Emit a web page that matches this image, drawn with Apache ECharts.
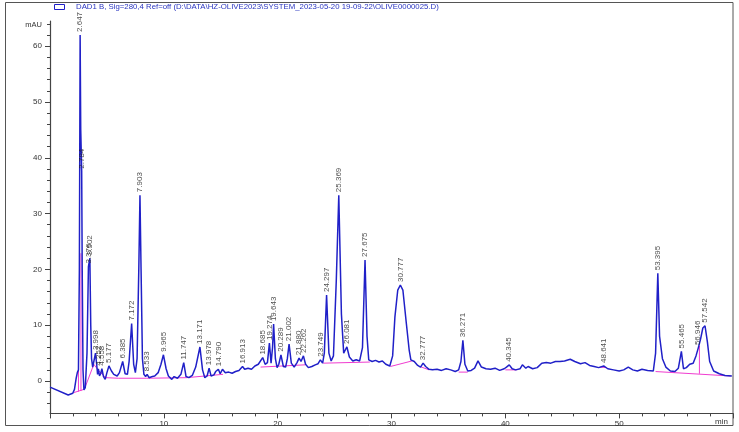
<!DOCTYPE html>
<html>
<head>
<meta charset="utf-8">
<script src="https://cdn.jsdelivr.net/npm/echarts@6/dist/echarts.min.js"></script>
<style>
  html, body { margin: 0; padding: 0; background: #fff; }
  #chart { width: 739px; height: 432px; }
</style>
</head>
<body>
<div id="chart"></div>
<script>
// 信号曲线 (时间 min, 吸收 mAU)
var trace = [
  [0, -1.1], [1.6, -2.5], [2.0, -2.2], [2.15, -1.5], [2.3, 0.5], [2.4, 1.5], [2.5, 2.0],
  [2.58, 20], [2.647, 62.0], [2.7, 45], [2.784, 37.5], [2.83, 20], [2.9, 2], [2.98, -1.6],
  [3.1, -1.2], [3.25, 5], [3.376, 20.5], [3.502, 22.0], [3.58, 10], [3.65, 4], [3.75, 2.5],
  [3.85, 3.5], [3.998, 5.0], [4.1, 3], [4.18, 1.2], [4.252, 2.2], [4.35, 0.9], [4.45, 1.3],
  [4.558, 2.2], [4.7, 0.8], [4.85, 0.3], [5.0, 1.5], [5.177, 2.7], [5.4, 1.8], [5.6, 1.2],
  [5.9, 0.9], [6.1, 1.5], [6.385, 3.5], [6.6, 1.3], [6.8, 1.2], [6.95, 3.5], [7.172, 10.3],
  [7.35, 3], [7.5, 1.5], [7.65, 4], [7.8, 20], [7.903, 33.3], [8.0, 20], [8.12, 4],
  [8.25, 1.2], [8.4, 0.8], [8.533, 1.2], [8.7, 0.6], [9.0, 0.8], [9.2, 0.9], [9.5, 1.5],
  [9.75, 3.0], [9.965, 4.7], [10.2, 2.2], [10.4, 0.9], [10.7, 0.3], [10.9, 0.8], [11.2, 0.5],
  [11.5, 1.2], [11.747, 3.3], [11.95, 0.8], [12.2, 0.6], [12.5, 1.0], [12.8, 2.5],
  [13.171, 6.1], [13.4, 2.0], [13.6, 0.6], [13.8, 0.9], [13.978, 2.3], [14.15, 0.9],
  [14.4, 1.1], [14.55, 1.7], [14.79, 2.1], [14.95, 1.3], [15.15, 2.1], [15.4, 1.5],
  [15.7, 1.6], [16.0, 1.4], [16.3, 1.7], [16.6, 1.9], [16.913, 2.6], [17.1, 2.1], [17.4, 2.3],
  [17.7, 2.1], [18.0, 2.7], [18.3, 3.0], [18.685, 4.2], [18.9, 3.0], [19.1, 3.3],
  [19.274, 6.8], [19.42, 3.2], [19.55, 6], [19.643, 10.2], [19.8, 4], [19.95, 2.4],
  [20.1, 3.0], [20.289, 4.7], [20.5, 2.6], [20.7, 2.5], [20.85, 4], [21.002, 6.6],
  [21.2, 3.2], [21.45, 2.5], [21.7, 3.3], [21.88, 4.1], [22.05, 3.5], [22.262, 4.5],
  [22.45, 3.0], [22.7, 2.4], [23.0, 2.6], [23.3, 2.9], [23.55, 3.1], [23.749, 3.8],
  [23.95, 3.2], [24.1, 5], [24.297, 15.4], [24.5, 5], [24.7, 3.6], [24.9, 4.5], [25.15, 18],
  [25.369, 33.3], [25.6, 12], [25.8, 5.0], [25.95, 5.6], [26.081, 6.1], [26.3, 4.3],
  [26.6, 3.6], [26.9, 3.8], [27.2, 3.6], [27.45, 6], [27.675, 21.7], [27.85, 8], [28.0, 3.8],
  [28.3, 3.5], [28.6, 3.7], [28.9, 3.4], [29.2, 3.6], [29.5, 3.0], [29.85, 2.7], [30.1, 4.5],
  [30.3, 11.5], [30.55, 16.3], [30.777, 17.2], [31.0, 16.3], [31.3, 10.4], [31.55, 5.6],
  [31.7, 3.8], [32.0, 3.5], [32.3, 2.8], [32.55, 2.5], [32.777, 3.2], [33.0, 2.6], [33.3, 2.1],
  [33.6, 2.0], [34.0, 2.1], [34.4, 1.9], [34.8, 2.2], [35.2, 2.0], [35.6, 1.7], [35.9, 2.0],
  [36.1, 3.5], [36.271, 7.3], [36.45, 3.0], [36.7, 1.8], [37.0, 1.9], [37.3, 2.3], [37.6, 3.6],
  [37.9, 2.5], [38.3, 2.2], [38.7, 2.1], [39.1, 2.3], [39.5, 1.9], [39.9, 2.2], [40.1, 2.5],
  [40.345, 2.9], [40.6, 2.2], [40.9, 2.0], [41.3, 2.2], [41.5, 2.9], [41.8, 2.3], [42.0, 2.6],
  [42.4, 2.2], [42.8, 2.4], [43.2, 3.2], [43.6, 3.3], [44.0, 3.2], [44.4, 3.5], [44.8, 3.5],
  [45.2, 3.6], [45.7, 3.9], [46.1, 3.5], [46.6, 3.1], [47.0, 3.3], [47.4, 2.8], [47.8, 2.6],
  [48.2, 2.4], [48.641, 2.7], [49.0, 2.2], [49.5, 2.0], [50.0, 1.8], [50.4, 2.0], [50.8, 2.5],
  [51.2, 2.0], [51.6, 1.8], [52.0, 2.1], [52.5, 1.9], [53.0, 1.8], [53.2, 5], [53.395, 19.3],
  [53.55, 8], [53.8, 4], [54.1, 2.5], [54.5, 1.8], [54.9, 1.7], [55.2, 2.3], [55.465, 5.3],
  [55.65, 2.2], [55.9, 2.4], [56.2, 3.0], [56.5, 3.2], [56.75, 4.5], [56.946, 5.9],
  [57.15, 7.5], [57.35, 9.5], [57.542, 9.9], [57.75, 7], [57.95, 3.5], [58.3, 1.8],
  [58.8, 1.3], [59.3, 1.0], [59.9, 0.9]
];

// 积分基线和分割线 (粉色)
var baselines = [
  [[2.05, -2.1], [2.98, -1.5]],
  [[2.5, -1.9], [2.5, 1.8]],
  [[2.72, -1.8], [2.72, 22.9]],
  [[3.05, -1.3], [3.85, 3.0], [4.3, 1.8], [4.9, 0.6], [6.0, 0.5], [8.5, 0.5], [12.0, 0.6], [15.2, 1.2]],
  [[18.5, 2.5], [22.4, 2.9]],
  [[24.0, 3.2], [28.1, 3.4]],
  [[29.9, 2.6], [31.8, 3.6]],
  [[32.5, 2.6], [33.3, 2.0]],
  [[35.9, 1.6], [36.7, 1.6]],
  [[40.0, 2.0], [41.0, 2.0]],
  [[48.3, 2.5], [48.9, 2.4]],
  [[53.2, 1.7], [59.8, 0.9]],
  [[57.05, 1.3], [57.05, 6.3]]
];

// 峰保留时间和峰高
var peakTimes = [2.647, 2.784, 3.376, 3.502, 3.998, 4.252, 4.558, 5.177, 6.385, 7.172, 7.903,
  8.533, 9.965, 11.747, 13.171, 13.978, 14.790, 16.913, 18.685, 19.274, 19.643, 20.289,
  21.002, 21.880, 22.262, 23.749, 24.297, 25.369, 26.081, 27.675, 30.777, 32.777, 36.271,
  40.345, 48.641, 53.395, 55.465, 56.946, 57.542];
var peakHeights = [62.0, 37.5, 20.5, 22.0, 5.0, 2.2, 2.2, 2.7, 3.5, 10.3, 33.3,
  1.2, 4.7, 3.3, 6.1, 2.3, 2.1, 2.6, 4.2, 6.8, 10.2, 4.7,
  6.6, 4.1, 4.5, 3.8, 15.4, 33.3, 6.1, 21.7, 17.2, 3.2, 7.3,
  2.9, 2.7, 19.3, 5.3, 5.9, 9.9];

var xLabels = [10, 20, 30, 40, 50];
var yLabels = [0, 10, 20, 30, 40, 50, 60];
var yMinorTicks = [-4, -2, 0, 2, 4, 6, 8, 10, 12, 14, 16, 18, 20, 22, 24, 26, 28, 30, 32, 34,
  36, 38, 40, 42, 44, 46, 48, 50, 52, 54, 56, 58, 60, 62, 64];

var legendText = 'DAD1 B, Sig=280,4 Ref=off (D:\\DATA\\HZ-OLIVE2023\\SYSTEM_2023-05-20 19-09-22\\OLIVE0000025.D)';

var chart = echarts.init(document.getElementById('chart'));

var axisColor = '#444';
var blue = '#2020c8';
var pink = '#f03cd0';

var series = [];
baselines.forEach(function (seg) {
    series.push({
        type: 'line',
        data: seg,
        showSymbol: false,
        silent: true,
        lineStyle: { color: pink, width: 1 },
        z: 2
    });
});
series.push({
    type: 'line',
    data: trace,
    showSymbol: false,
    silent: true,
    lineStyle: { color: blue, width: 1.5 },
    z: 3
});
series.push({
    type: 'scatter',
    symbolSize: 0,
    data: peakTimes.map(function (t, i) { return [t, peakHeights[i]]; }),
    label: {
        show: true,
        position: 'top',
        distance: 3,
        rotate: 90,
        align: 'left',
        verticalAlign: 'middle',
        fontSize: 8,
        fontFamily: 'Liberation Sans',
        color: '#222',
        formatter: function (p) { return p.value[0].toFixed(3); }
    },
    z: 4
});

var option = {
    backgroundColor: '#fff',
    animation: false,
    grid: { left: 50, top: 21, right: 6, bottom: 18.6 },
    xAxis: {
        type: 'value',
        min: 0,
        max: 60,
        interval: 10,
        axisLine: { onZero: false, lineStyle: { color: axisColor, width: 1.2 } },
        axisTick: { length: 5, lineStyle: { color: axisColor } },
        minorTick: { show: true, splitNumber: 5, length: 3, lineStyle: { color: axisColor } },
        axisLabel: { customValues: xLabels, margin: 6, fontSize: 8, fontFamily: 'Liberation Sans', color: '#333' },
        splitLine: { show: false }
    },
    yAxis: [{
        type: 'value',
        min: -5.8,
        max: 64.5,
        axisLine: { show: true, onZero: false, lineStyle: { color: axisColor, width: 1.2 } },
        axisTick: { show: true, customValues: yMinorTicks, length: 3, lineStyle: { color: axisColor } },
        axisLabel: { customValues: yLabels, margin: 8, fontSize: 8, fontFamily: 'Liberation Sans', color: '#333' },
        splitLine: { show: false }
    }, {
        type: 'value',
        position: 'left',
        min: -5.8,
        max: 64.5,
        axisLine: { show: false, onZero: false },
        axisTick: { show: true, customValues: yLabels, length: 5, lineStyle: { color: axisColor } },
        axisLabel: { show: false },
        splitLine: { show: false }
    }],
    graphic: [
        { type: 'rect', shape: { x: 5.5, y: 2.5, width: 727.5, height: 423 }, style: { fill: null, stroke: '#555', lineWidth: 1 }, silent: true },
        { type: 'rect', shape: { x: 54.5, y: 4.5, width: 10, height: 5 }, style: { fill: '#fff', stroke: blue, lineWidth: 1 }, silent: true },
        { type: 'text', x: 76, y: 7, style: { text: legendText, fontSize: 7.8, fontFamily: 'Liberation Sans', fill: '#2a35c0', verticalAlign: 'middle' }, silent: true },
        { type: 'text', x: 42, y: 25, style: { text: 'mAU', fontSize: 7.5, fontFamily: 'Liberation Sans', fill: '#333', align: 'right', verticalAlign: 'middle' }, silent: true },
        { type: 'text', x: 728, y: 422, style: { text: 'min', fontSize: 8, fontFamily: 'Liberation Sans', fill: '#333', align: 'right', verticalAlign: 'middle' }, silent: true }
    ],
    series: series
};

chart.setOption(option);
</script>
</body>
</html>
